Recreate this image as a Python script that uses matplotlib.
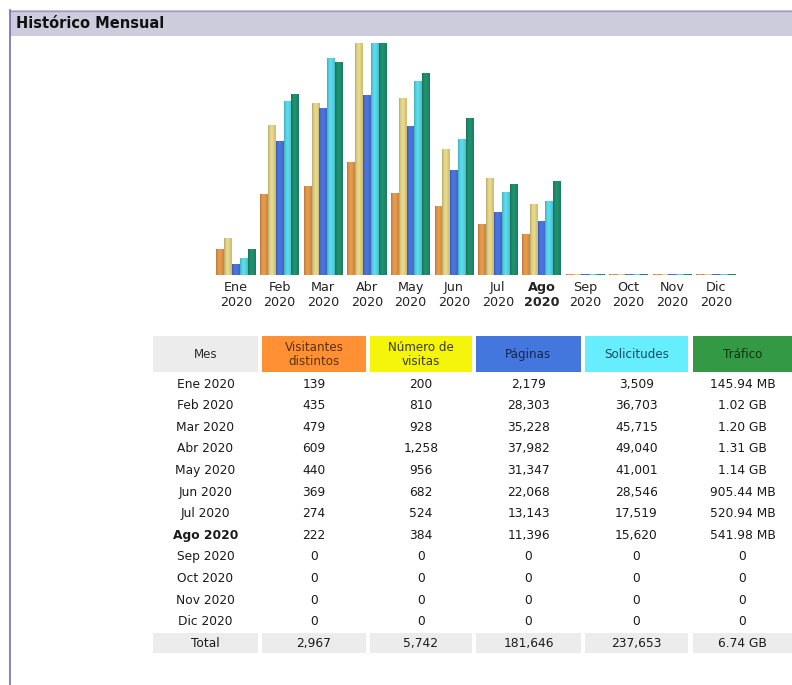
import matplotlib
matplotlib.use("Agg")
from matplotlib import pyplot as plt
from matplotlib.patches import Rectangle
from matplotlib.colors import to_rgb
import numpy as np

months = ['Ene', 'Feb', 'Mar', 'Abr', 'May', 'Jun', 'Jul', 'Ago', 'Sep', 'Oct', 'Nov', 'Dic']
year = '2020'
current = 'Ago'

visitors = [139, 435, 479, 609, 440, 369, 274, 222, 0, 0, 0, 0]
visits = [200, 810, 928, 1258, 956, 682, 524, 384, 0, 0, 0, 0]
pages = [2179, 28303, 35228, 37982, 31347, 22068, 13143, 11396, 0, 0, 0, 0]
hits = [3509, 36703, 45715, 49040, 41001, 28546, 17519, 15620, 0, 0, 0, 0]
bandwidth_mb = [145.94, 1044.48, 1228.8, 1341.44, 1167.36, 905.44, 520.94, 541.98, 0, 0, 0, 0]
traffic = ['145.94 MB', '1.02 GB', '1.20 GB', '1.31 GB', '1.14 GB', '905.44 MB',
           '520.94 MB', '541.98 MB', '0', '0', '0', '0']
totals = ['2,967', '5,742', '181,646', '237,653', '6.74 GB']

headers = ['Mes', 'Visitantes\ndistintos', 'Número de\nvisitas', 'Páginas', 'Solicitudes', 'Tráfico']
head_bg = ['#ECECEC', '#FF9033', '#F5F50C', '#4477DD', '#66EEFF', '#339944']
head_fg = ['#2A2A2A', '#5A320A', '#3C3C00', '#14264D', '#154E5A', '#0A3310']
bar_colors = ['#E3974A', '#E4D486', '#4A72DC', '#58D6E8', '#1E8E6C']

W, H = 792, 685
fig = plt.figure(figsize=(W / 100, H / 100), dpi=100)

# page background in pixel coordinates
bg = fig.add_axes([0, 0, 1, 1])
bg.set_xlim(0, W)
bg.set_ylim(H, 0)
bg.axis('off')
bg.add_patch(Rectangle((10, 10), W - 10, 26, fc='#CCCCDD', ec='none'))
bg.plot([10, W], [10.5, 10.5], color='#9C9CC0', lw=1)
bg.plot([10, 10], [10, H], color='#6F6FB0', lw=1.2)
bg.text(16, 23, 'Histórico Mensual', fontsize=10.5, fontweight='bold',
        va='center', ha='left', color='#111111')

# bar chart
x0, x1 = 214.2, 737.8
ybase, ytop = 275, 43
ax = fig.add_axes([x0 / W, (H - ybase) / H, (x1 - x0) / W, (ybase - ytop) / H])
ax.set_facecolor('none')
for s in ax.spines.values():
    s.set_visible(False)

series = [
    np.array(visitors) / max(visits),
    np.array(visits) / max(visits),
    np.array(pages) / max(hits),
    np.array(hits) / max(hits),
    np.array(bandwidth_mb) / max(bandwidth_mb),
]
x = np.arange(len(months))
bw = 0.179
prof = np.interp(np.linspace(0, 1, 24), [0, 0.2, 0.5, 1], [0.8, 0.97, 1.04, 0.88])
for k, (vals, c) in enumerate(zip(series, bar_colors)):
    hts = np.maximum(vals, 0.004)
    bars = ax.bar(x + (k - 2) * bw, hts, width=bw, color=c, linewidth=0)
    rgb = np.array(to_rgb(c))
    grad = np.clip(prof[:, None] * rgb[None, :], 0, 1)[None, :, :]
    for r in bars:
        ax.imshow(grad, extent=[r.get_x(), r.get_x() + r.get_width(), 0, r.get_height()],
                  aspect='auto', interpolation='bilinear', zorder=3)

ax.set_xlim(-0.5, len(months) - 0.5)
ax.set_ylim(0, 1)
ax.set_yticks([])
ax.set_xticks(x)
ax.set_xticklabels([m + '\n' + year for m in months], fontsize=9.2, color='#222222',
                   linespacing=1.25)
ax.tick_params(axis='x', length=0, pad=4)
for lab, m in zip(ax.get_xticklabels(), months):
    if m == current:
        lab.set_fontweight('bold')

# table
cols = [(153, 258), (262, 366), (370, 472), (476, 581), (585, 688), (693, 792)]
centers = [(a + b) / 2 for a, b in cols]
for (a, b), hb, hf, txt in zip(cols, head_bg, head_fg, headers):
    bg.add_patch(Rectangle((a, 336), b - a, 36, fc=hb, ec='none'))
    bg.text((a + b) / 2, 354, txt, ha='center', va='center', fontsize=8.6,
            color=hf, linespacing=1.1)

row_y = 384
step = 21.6
for i, m in enumerate(months):
    y = row_y + i * step
    vals = [m + ' ' + year, f'{visitors[i]:,}', f'{visits[i]:,}', f'{pages[i]:,}',
            f'{hits[i]:,}', traffic[i]]
    for j, v in enumerate(vals):
        bg.text(centers[j], y, v, ha='center', va='center', fontsize=8.8, color='#1A1A1A',
                fontweight='bold' if (j == 0 and m == current) else 'normal')

ty = row_y + len(months) * step
for (a, b) in cols:
    bg.add_patch(Rectangle((a, ty - 10), b - a, 20, fc='#ECECEC', ec='none'))
for j, v in enumerate(['Total'] + totals):
    bg.text(centers[j], ty, v, ha='center', va='center', fontsize=8.8, color='#1A1A1A')

fig.savefig('out.png', dpi=100)
